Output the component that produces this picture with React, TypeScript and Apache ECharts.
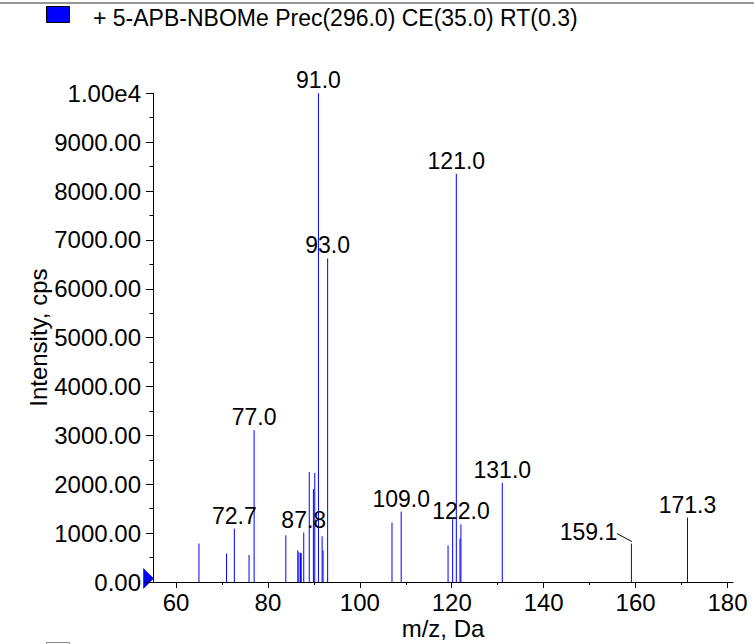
import React, { useEffect, useRef } from "react";
import * as echarts from "echarts";

// ---- data ----
const mzValues = [
  65.0, 71.0, 72.7, 75.9, 77.0, 83.9, 86.5, 86.75, 87.1, 87.25, 87.8, 89.0, 89.9, 90.2, 91.0, 91.8, 92.0, 93.0,
  107.0, 109.0, 119.2, 120.2, 121.0, 121.8, 122.0, 131.0, 159.1, 171.3,
];
const intensities = [
  786, 581, 1093, 553, 3106, 956, 650, 610, 595, 590, 1011, 2252, 1900, 2232, 10000, 936, 649, 6620,
  1216, 1441, 751, 1284, 8350, 888, 1181, 2030, 786, 1318,
];
const labelTexts = ["72.7", "77.0", "87.8", "91.0", "93.0", "109.0", "121.0", "122.0", "131.0", "159.1", "171.3"];
const xTickLabels = [60, 80, 100, 120, 140, 160, 180];
const xMinorTicks = [70, 90, 110, 130, 150, 170];
const legendTitle = "+ 5-APB-NBOMe Prec(296.0) CE(35.0) RT(0.3)";
const xAxisName = "m/z, Da";
const yAxisName = "Intensity, cps";

// ---- styles ----
const FONT = "'Liberation Sans', Arial, Helvetica, sans-serif";
const BLUE = "#0000ff";
const LABEL_SIZE = 23;
const TICK_SIZE = 24;
const NAME_SIZE = 24;
// labels shifted aside with a leader line: [dx, dy] of the label centre from the peak top
const leaderShift: Record<string, [number, number]> = { "159.1": [-43, -12] };

export default function App() {
  const ref = useRef<HTMLDivElement>(null);
  useEffect(() => {
    document.body.style.margin = "0";
    document.body.style.overflow = "hidden";
    const chart = echarts.init(ref.current!, null, { renderer: "svg" });

    const stickData = mzValues.map((m, i) => [m, intensities[i]]);
    const labelData = labelTexts.map((t) => {
      const m = parseFloat(t);
      let best = 0;
      mzValues.forEach((v, i) => {
        if (Math.abs(v - m) < Math.abs(mzValues[best] - m)) best = i;
      });
      return [mzValues[best], intensities[best], t];
    });

    chart.setOption({
      animation: false,
      grid: { left: 153, right: 21, top: 93.3, bottom: 62, containLabel: false, outerBoundsMode: "none" },
      xAxis: [
        {
          type: "value",
          min: 55,
          max: 181.2,
          axisLine: { show: true, lineStyle: { color: "#000", width: 1 } },
          axisTick: { show: true, length: 6, customValues: xTickLabels, lineStyle: { color: "#000" } },
          axisLabel: {
            show: true,
            customValues: xTickLabels,
            color: "#000",
            fontSize: TICK_SIZE,
            fontFamily: FONT,
            margin: 8,
          },
          splitLine: { show: false },
          name: xAxisName,
          nameLocation: "middle",
          nameGap: 34,
          nameMoveOverlap: false,
          nameTextStyle: { color: "#000", fontSize: NAME_SIZE, fontFamily: FONT },
        },
        {
          type: "value",
          min: 55,
          max: 181.2,
          position: "bottom",
          axisLine: { show: false },
          axisTick: { show: true, length: 3, customValues: xMinorTicks, lineStyle: { color: "#000" } },
          axisLabel: { show: false },
          splitLine: { show: false },
        },
      ],
      yAxis: {
        type: "value",
        min: 0,
        max: 10000,
        interval: 1000,
        axisLine: { show: true, lineStyle: { color: "#000", width: 1 } },
        axisTick: { show: true, length: 7, lineStyle: { color: "#000" } },
        minorTick: { show: true, splitNumber: 2, length: 3.5, lineStyle: { color: "#000" } },
        splitLine: { show: false },
        axisLabel: {
          color: "#000",
          fontSize: TICK_SIZE,
          fontFamily: FONT,
          margin: 12,
          formatter: (v: number) => (v >= 10000 ? "1.00e4" : v.toFixed(2)),
        },
        name: yAxisName,
        nameLocation: "middle",
        nameGap: 103,
        nameMoveOverlap: false,
        nameTextStyle: { color: "#000", fontSize: NAME_SIZE, fontFamily: FONT },
      },
      series: [
        {
          type: "custom",
          silent: true,
          data: stickData,
          encode: { x: 0, y: 1 },
          renderItem: (_p: any, api: any) => {
            const a = api.coord([api.value(0), 0]);
            const b = api.coord([api.value(0), api.value(1)]);
            return {
              type: "line",
              shape: { x1: a[0], y1: a[1], x2: b[0], y2: b[1] },
              style: { stroke: BLUE, lineWidth: 1 },
            };
          },
        },
        {
          type: "custom",
          silent: true,
          data: labelData,
          encode: { x: 0, y: 1 },
          renderItem: (_p: any, api: any) => {
            const text = labelData[_p.dataIndex][2] as string;
            const b = api.coord([api.value(0), api.value(1)]);
            const shift = leaderShift[text];
            const dx = shift ? shift[0] : 0;
            const dy = shift ? shift[1] : -13;
            const children: any[] = [
              {
                type: "text",
                x: b[0] + dx,
                y: b[1] + dy,
                style: {
                  text,
                  fill: "#000",
                  fontSize: LABEL_SIZE,
                  fontFamily: FONT,
                  align: "center",
                  verticalAlign: "middle",
                },
              },
            ];
            if (shift) {
              children.push({
                type: "line",
                shape: { x1: b[0] - 14.5, y1: b[1] - 10, x2: b[0] + 0.5, y2: b[1] - 2 },
                style: { stroke: "#000", lineWidth: 1 },
              });
            }
            return { type: "group", children };
          },
        },
      ],
      graphic: [
        { type: "line", shape: { x1: 0, y1: 3, x2: 754, y2: 3 }, style: { stroke: "#333", lineWidth: 1.2 } },
        {
          type: "rect",
          shape: { x: 46.5, y: 6.5, width: 23, height: 16 },
          style: { fill: BLUE, stroke: "#000", lineWidth: 1 },
        },
        {
          type: "text",
          x: 93,
          y: 17.5,
          style: { text: legendTitle, fill: "#000", fontSize: LABEL_SIZE, fontFamily: FONT, verticalAlign: "middle" },
        },
        {
          type: "polygon",
          shape: { points: [[143.5, 568.5], [153.5, 578.5], [143.5, 588.5]] },
          style: { fill: BLUE, stroke: "#00008b", lineWidth: 0.5 },
        },
        {
          type: "rect",
          shape: { x: 46.5, y: 642.5, width: 23, height: 12 },
          style: { fill: "none", stroke: "#888", lineWidth: 1 },
        },
      ],
    });
    return () => chart.dispose();
  }, []);
  return <div ref={ref} style={{ width: 754, height: 644 }} />;
}
